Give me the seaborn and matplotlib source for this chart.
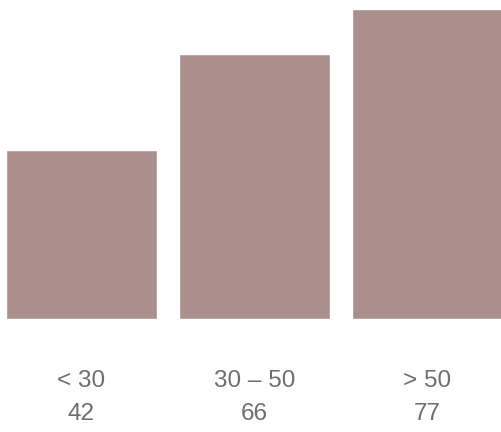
import matplotlib
matplotlib.use("Agg")
import matplotlib.pyplot as plt
import seaborn as sns

groups = ["< 30", "30 – 50", "> 50"]
values = [42, 66, 77]
tick_labels = [f"{g}\n{v}" for g, v in zip(groups, values)]

sns.set_theme(style="white")
plt.rcParams['font.family'] = ['Liberation Sans', 'DejaVu Sans']

fig = plt.figure(figsize=(5.01, 4.32), dpi=100)
ax = fig.add_axes([0, 113 / 432, 1, 319 / 432])

sns.barplot(x=groups, y=values, color="#ab8f8d", saturation=1, width=0.873, ax=ax)

ax.set_xlim(-0.471, 2.425)
ax.set_ylim(0, 79.35)
ax.set_yticks([])
ax.set_xticks(range(len(groups)))
ax.set_xticklabels(tick_labels, fontsize=17.5, color="#6e6e73", linespacing=1.62)
ax.tick_params(axis="x", length=0, pad=37)
sns.despine(ax=ax, left=True, bottom=True)
ax.set_xlabel("")
ax.set_ylabel("")

fig.savefig("out.png", dpi=100)
